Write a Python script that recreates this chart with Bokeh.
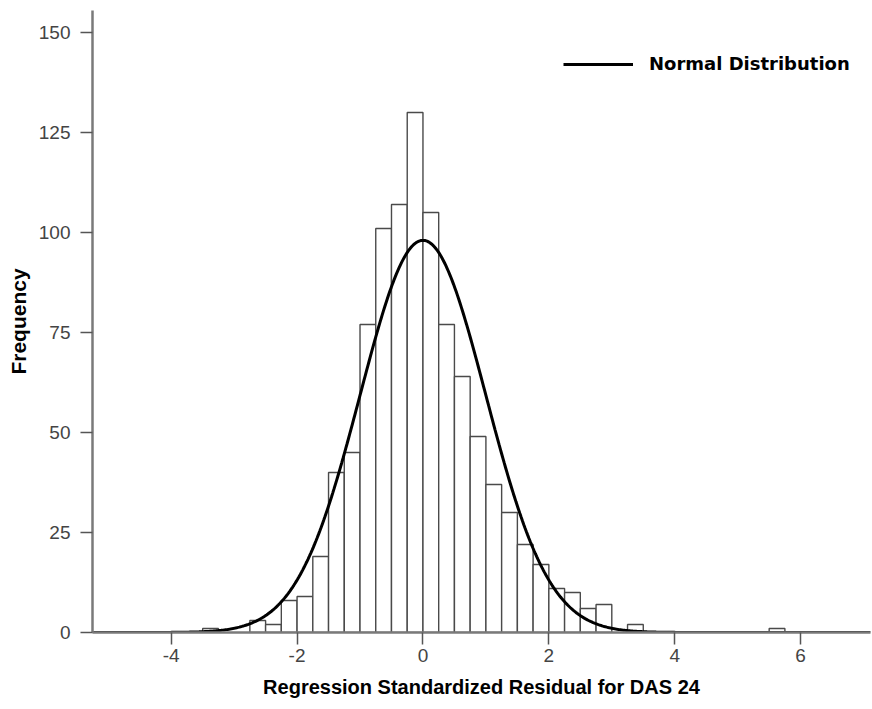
import numpy as np
from bokeh.plotting import figure
from bokeh.models import (Range1d, FixedTicker, Legend, LegendItem, ColumnDataSource,
                          PrintfTickFormatter)
from bokeh.embed import file_html
from bokeh.resources import INLINE

# ---- data ----
bin_left = [-3.5, -3.25, -3.0, -2.75, -2.5, -2.25, -2.0, -1.75, -1.5, -1.25,
            -1.0, -0.75, -0.5, -0.25, 0.0, 0.25, 0.5, 0.75, 1.0, 1.25,
            1.5, 1.75, 2.0, 2.25, 2.5, 2.75, 3.0, 3.25, 5.5]
counts = [1, 0, 0, 3, 2, 8, 9, 19, 40, 45,
          77, 101, 107, 130, 105, 77, 64, 49, 37, 30,
          22, 17, 11, 10, 6, 7, 0, 2, 1]
bin_width = 0.25
fit_mean = 0.0
fit_std = 0.997
n_total = sum(counts)
x_ticks = [-4, -2, 0, 2, 4, 6]
y_ticks = [0, 25, 50, 75, 100, 125, 150]

# ---- figure ----
p = figure(width=872, height=709, output_backend="svg", toolbar_location=None,
           x_range=Range1d(-5.25, 7.11), y_range=Range1d(0, 155.5),
           min_border_left=92, min_border_right=2, min_border_top=10,
           min_border_bottom=77)
p.grid.visible = False
p.outline_line_color = None
p.background_fill_color = "white"

left = np.array(bin_left)
keep = [i for i, c in enumerate(counts) if c > 0]
src = ColumnDataSource(dict(left=[left[i] for i in keep],
                            right=[left[i] + bin_width for i in keep],
                            top=[counts[i] for i in keep],
                            bottom=[0] * len(keep)))
p.quad(left="left", right="right", top="top", bottom="bottom", source=src,
       fill_color="white", line_color="#4a4a4a", line_width=1.4)

xs = np.linspace(-5.25, 7.11, 600)
ys = n_total * bin_width / (fit_std * np.sqrt(2 * np.pi)) * np.exp(-0.5 * ((xs - fit_mean) / fit_std) ** 2)
curve = p.line(xs, ys, line_color="black", line_width=3)

legend = Legend(items=[LegendItem(label="Normal Distribution", renderers=[curve])],
                location=(471, 558), orientation="vertical",
                border_line_alpha=0, background_fill_alpha=0,
                padding=0, margin=0, spacing=0,
                glyph_width=70, glyph_height=20, label_standoff=16,
                label_text_font="DejaVu Sans", label_text_font_style="bold",
                label_text_font_size="18px", label_text_color="black")
p.add_layout(legend, "center")

tick_font = "Liberation Sans"
for ax in (p.xaxis[0], p.yaxis[0]):
    ax.axis_line_color = "#7a7a7a"
    ax.axis_line_width = 2.5
    ax.major_tick_line_color = "#555555"
    ax.major_tick_line_width = 1.5
    ax.major_tick_in = 0
    ax.major_tick_out = 12
    ax.minor_tick_line_color = None
    ax.major_label_text_font = tick_font
    ax.major_label_text_font_size = "19px"
    ax.major_label_text_color = "#444444"
    ax.axis_label_text_font = tick_font
    ax.axis_label_text_font_style = "bold"
    ax.axis_label_text_color = "black"
    ax.formatter = PrintfTickFormatter(format="%d")

p.xaxis[0].ticker = FixedTicker(ticks=x_ticks)
p.yaxis[0].ticker = FixedTicker(ticks=y_ticks)
p.xaxis[0].major_label_standoff = 4
p.yaxis[0].major_label_standoff = 10
p.xaxis[0].axis_label = "Regression Standardized Residual for DAS 24"
p.xaxis[0].axis_label_text_font_size = "20px"
p.xaxis[0].axis_label_standoff = 11
p.yaxis[0].axis_label = "Frequency"
p.yaxis[0].axis_label_text_font_size = "21px"
p.yaxis[0].axis_label_standoff = 6

open("out.html", "w").write(file_html(p, INLINE))
